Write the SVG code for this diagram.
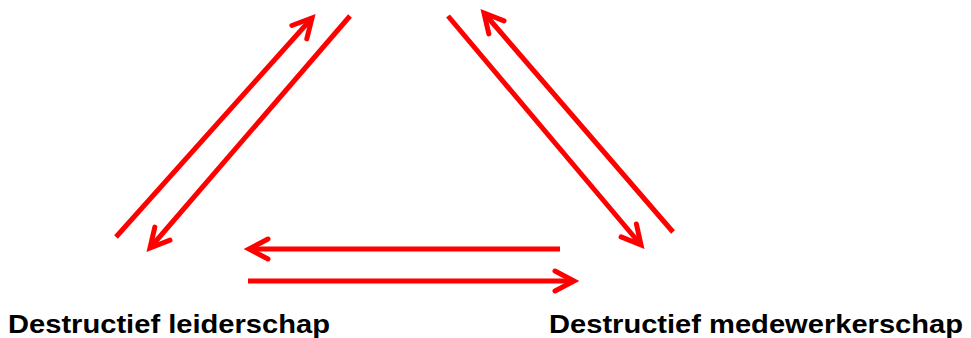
<svg xmlns="http://www.w3.org/2000/svg" width="971" height="338" viewBox="0 0 971 338">
<style>
.c{stroke:#FF0000;stroke-width:5;fill:none;stroke-linecap:butt;marker-end:url(#ah)}
.t{font-family:"Liberation Sans",Arial,sans-serif;font-weight:bold;font-size:26px;fill:#000}
</style>
<defs>
<marker id="ah" markerUnits="userSpaceOnUse" markerWidth="40" markerHeight="40" viewBox="-25 -20 40 40" refX="0" refY="0" orient="auto" overflow="visible">
<path d="M-19,-10 L0,0 L-19,10" fill="none" stroke="#FF0000" stroke-width="5" stroke-linecap="round" stroke-linejoin="miter"/>
</marker>
</defs>
<rect width="971" height="338" fill="#fff"/>
<g id="connectors">
<line class="c" x1="116" y1="237" x2="312" y2="18"/>
<line class="c" x1="350" y1="16" x2="150" y2="248"/>
<line class="c" x1="448" y1="16" x2="641" y2="245"/>
<line class="c" x1="673" y1="232" x2="484" y2="13"/>
<line class="c" x1="560" y1="249" x2="249" y2="249"/>
<line class="c" x1="248" y1="281" x2="574" y2="281"/>
</g>
<g id="node-leiderschap"><text class="t" x="8" y="333" textLength="322" lengthAdjust="spacingAndGlyphs">Destructief leiderschap</text></g>
<g id="node-medewerkerschap"><text class="t" x="549" y="333" textLength="414" lengthAdjust="spacingAndGlyphs">Destructief medewerkerschap</text></g>
</svg>
